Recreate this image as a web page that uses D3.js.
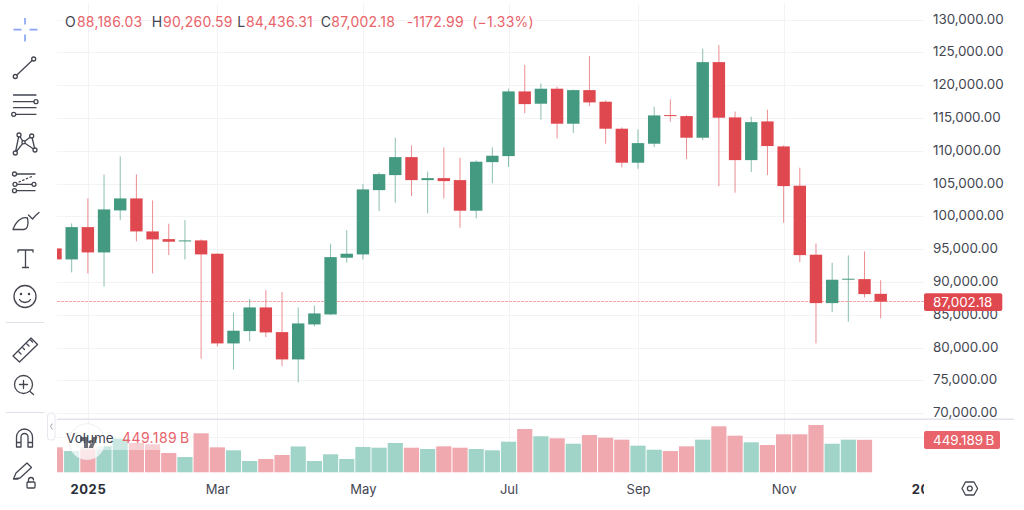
<!DOCTYPE html>
<html>
<head>
<meta charset="utf-8">
<title>BTC weekly</title>
<script src="https://cdn.jsdelivr.net/npm/d3@7/dist/d3.min.js"></script>
<style>
html,body{margin:0;padding:0;background:#fff;overflow:hidden}
svg{display:block;font-family:Inter,"Noto Sans",sans-serif}
</style>
</head>
<body>
<svg id="chart" width="1024" height="510"></svg>
<script>
// Weekly OHLC series
const opens = [95110,93433,98359,94500,100906,102735,97703,96529,96224,96330,94302,80623,82499,86113,82346,78183,83520,85045,93692,94195,104001,106289,109034,105526,105831,105526,100860,108271,109186,119053,117177,119465,114127,119251,117482,113365,108180,111077,115439,115286,111992,123521,115088,108576,114478,110665,104672,94150,86769,90429,90429,88186.03];
const closes = [93433,98359,94500,101058,102735,97703,96483,96133,96330,94195,80623,82560,86113,82300,78183,83673,85198,93784,94302,104108,106441,109034,105526,105831,105374,100860,108332,109247,119053,117116,119465,114127,119251,117375,113365,108180,111169,115393,115286,111992,123521,115042,108576,114371,110720,104611,94089,86769,90337,90490,88141,87002.18];
const highs = [95263,98923,102735,106396,109141,106396,102431,98877,99426,96483,94348,85305,87440,88752,88446,86113,86418,95828,97901,104916,106701,111992,110818,106808,110513,108942,108531,110513,119465,123094,120273,119770,119358,124436,117680,113563,113258,116720,117833,115439,125565,126114,115983,115195,116262,110818,107417,95873,92930,94043,94653,90260.59];
const lows = [93280,91450,91298,89315,99426,96178,91298,94089,93433,78290,80166,76658,80928,81584,77161,74675,83216,84969,92930,93433,100799,102080,103086,100448,102735,98268,99686,105069,107509,115744,114737,111886,112694,116811,111077,107463,107265,110559,114432,108729,111626,104611,103605,106746,106289,99030,93022,80623,85396,83933,87638,84436.31];
const volumes = [345,294,350,360,464,405,387,267,211,539,345,304,156,184,239,357,156,249,184,350,340,405,340,322,359,340,322,304,423,598,498,470,395,515,478,451,368,312,294,359,451,636,506,415,377,525,525,654,395,451,449.189];

const priceTicks = [130000,125000,120000,115000,110000,105000,100000,95000,90000,85000,80000,75000,70000];
const timeIndexes = [2,10,19,28,36,45,54];
const timeLabels = ["2025","Mar","May","Jul","Sep","Nov","2026"];
const boldTimeLabels = ["2025","2026"];

const legendOpen = "88,186.03", legendHigh = "90,260.59", legendLow = "84,436.31", legendClose = "87,002.18";
const legendChange = "-1172.99", legendPercent = "(\u22121.33%)";
const lastPrice = 87002.18, lastVolume = "449.189\u2009B";

const UP = "#449a80", DOWN = "#e0484f", UP_VOL = "#a1d4c8", DOWN_VOL = "#f0a9af";
const INK = "#434651", RED_TEXT = "#e9636a", GRID = "#f3f3f6", RULE = "#e2e3ea";
const PANE_LEFT = 57, PANE_RIGHT = 924;

const svg = d3.select("#chart");
const x = d3.scaleLinear().domain([0, 51]).range([55.5, 880.7]);
const y = d3.scaleLinear().domain([70000, 130000]).range([413.08, 19.63]);
const v = d3.scaleLinear().domain([0, 700]).range([472.3, 421.65]);
const step = x(1) - x(0);

svg.append("defs").append("clipPath").attr("id", "pane")
  .append("rect").attr("x", PANE_LEFT).attr("y", 0).attr("width", PANE_RIGHT - PANE_LEFT).attr("height", 510);

// Grid
const grid = svg.append("g").attr("shape-rendering", "crispEdges");
grid.selectAll("line.h").data(priceTicks).join("line").attr("class", "h")
  .attr("x1", PANE_LEFT).attr("x2", PANE_RIGHT).attr("y1", d => Math.round(y(d))).attr("y2", d => Math.round(y(d)))
  .attr("stroke", GRID);
grid.append("line").attr("x1", PANE_LEFT).attr("x2", PANE_RIGHT).attr("y1", 437).attr("y2", 437).attr("stroke", GRID);
grid.selectAll("line.v").data(timeIndexes.slice(0, 6)).join("line").attr("class", "v")
  .attr("x1", d => Math.round(x(d))).attr("x2", d => Math.round(x(d))).attr("y1", 4).attr("y2", 472)
  .attr("stroke", GRID);

const plot = svg.append("g").attr("clip-path", "url(#pane)");

// Volume columns
plot.append("g").selectAll("rect").data(volumes).join("rect")
  .attr("x", (d, i) => x(i) - (step - 1) / 2)
  .attr("width", step - 1)
  .attr("y", d => v(d))
  .attr("height", d => v(0) - v(d))
  .attr("fill", (d, i) => closes[i] >= opens[i] ? UP_VOL : DOWN_VOL);

// Last price line
plot.append("line")
  .attr("x1", PANE_LEFT).attr("x2", PANE_RIGHT).attr("y1", y(lastPrice)).attr("y2", y(lastPrice))
  .attr("stroke", "#f8a4a8").attr("stroke-dasharray", "3 1")
  .attr("shape-rendering", "crispEdges");

// Candles
const candles = plot.append("g").selectAll("g").data(opens).join("g");
candles.append("line")
  .attr("x1", (d, i) => x(i)).attr("x2", (d, i) => x(i))
  .attr("y1", (d, i) => y(highs[i])).attr("y2", (d, i) => y(lows[i]))
  .attr("stroke", (d, i) => closes[i] >= opens[i] ? UP : DOWN)
  .attr("stroke-opacity", 0.62);
candles.append("rect")
  .attr("x", (d, i) => x(i) - 6.2).attr("width", 12.4)
  .attr("y", (d, i) => y(Math.max(opens[i], closes[i])))
  .attr("height", (d, i) => Math.max(1, Math.abs(y(opens[i]) - y(closes[i]))))
  .attr("fill", (d, i) => closes[i] >= opens[i] ? UP : DOWN);

// Pane separator
svg.append("line").attr("x1", PANE_LEFT).attr("x2", 1014).attr("y1", 419.3).attr("y2", 419.3)
  .attr("stroke", RULE).attr("stroke-width", 1.6);

// Price axis
const priceAxis = d3.axisRight(y).tickValues(priceTicks).tickFormat(d3.format(",.2f")).tickSize(0).tickPadding(0);
const pa = svg.append("g").attr("transform", "translate(933,-0.8)").call(priceAxis);
pa.select(".domain").remove();
pa.selectAll("text").attr("fill", INK).attr("font-size", 13.4).attr("font-family", "Inter");

// Time axis, cut off at the edge of the price scale
const timeAxis = d3.axisBottom(x).tickValues(timeIndexes)
  .tickFormat(d => timeLabels[timeIndexes.indexOf(d)]).tickSize(0).tickPadding(0);
const ta = svg.append("g").attr("clip-path", "url(#pane)").append("g")
  .attr("transform", "translate(0,484.5)").call(timeAxis);
ta.select(".domain").remove();
ta.selectAll("text").attr("fill", d => boldTimeLabels.includes(timeLabels[timeIndexes.indexOf(d)]) ? "#2a2e39" : INK)
  .attr("font-size", 13).attr("font-family", "Inter")
  .attr("font-weight", d => boldTimeLabels.includes(timeLabels[timeIndexes.indexOf(d)]) ? 700 : 400)
  .attr("letter-spacing", d => boldTimeLabels.includes(timeLabels[timeIndexes.indexOf(d)]) ? 0.6 : 0);

// Scale badges
function badge(bx, by, w, h, fill, label) {
  svg.append("rect").attr("x", bx).attr("y", by).attr("width", w).attr("height", h).attr("rx", 2).attr("fill", fill);
  svg.append("text").attr("x", 933).attr("y", by + h / 2 + 4.8).attr("fill", "#fff").attr("font-size", 13.4)
    .attr("font-family", "Inter").text(label);
}
badge(924, 293.3, 78.3, 17.8, "#e0484f", d3.format(",.2f")(lastPrice));
badge(924, 431, 76, 18, "#e8636a", lastVolume);

// Translucent backing of the volume title
svg.append("rect").attr("x", 62).attr("y", 432).attr("width", 130).attr("height", 18)
  .attr("fill", "#fff").attr("fill-opacity", 0.45);

// Watermark under the volume title
const mark = svg.append("g");
mark.append("circle").attr("cx", 87).attr("cy", 441.7).attr("r", 18).attr("fill", "#fff").attr("fill-opacity", 0.72)
  .attr("stroke", "#e6e7ec").attr("stroke-opacity", 0.6);
mark.append("path").attr("fill", "#6d6f78")
  .attr("d", "M80 437h8v11h-4v-7h-4z M90.5 440a1.8 1.8 0 1 0 .01 0z M93 437h4.5l-4.6 11h-4.2z");

// Legend row
const legend = [
  [65, "O", INK], [77, legendOpen, RED_TEXT], [151.7, "H", INK], [163, legendHigh, RED_TEXT],
  [237.3, "L", INK], [246, legendLow, RED_TEXT], [320.7, "C", INK], [331.3, legendClose, RED_TEXT],
  [406.7, legendChange, RED_TEXT], [472.3, legendPercent, RED_TEXT]
];
svg.append("g").selectAll("text").data(legend).join("text")
  .attr("x", d => d[0]).attr("y", 26.5).attr("fill", d => d[2]).attr("font-size", 14).attr("letter-spacing", 0.2)
  .attr("font-family", "Inter").text(d => d[1]);
svg.append("text").attr("x", 66).attr("y", 442.5).attr("fill", INK).attr("font-size", 13.5).attr("font-family", "Inter").text("Volume");
svg.append("text").attr("x", 122).attr("y", 442.5).attr("fill", RED_TEXT).attr("font-size", 14).attr("letter-spacing", 0.4)
  .attr("font-family", "Inter").text(lastVolume);

// Left toolbar
const bar = svg.append("g").attr("fill", "none").attr("stroke", INK).attr("stroke-width", 1.3)
  .attr("stroke-linecap", "round").attr("stroke-linejoin", "round");
const ring = (cx, cy, r = 2) => bar.append("circle").attr("cx", cx).attr("cy", cy).attr("r", r).attr("fill", "#fff");
const draw = d => bar.append("path").attr("d", d);

bar.append("path").attr("d", "M13.5 29.6h8M29.5 29.6h8M25 18v6.5M25 34.5v7").attr("stroke", "#8aa5f6").attr("stroke-linecap", "butt").attr("stroke-width", 1.7);

draw("M15.3 76.5L33.7 59"); ring(15.3, 76.5); ring(33.7, 59);

draw("M13.5 95H36M13.5 101.7H36M13.5 107.7H36M13.7 114.3H36"); ring(36, 101.7); ring(13.7, 114.3);

draw("M15.3 153L19 135L23.5 142.3L31.7 136L35 150L23.5 142.3L15.3 153"); ring(15.3, 153); ring(19, 135); ring(31.7, 136); ring(35, 150); ring(23.5, 142.3, 1.6);

draw("M15 174H35M15 184.3H34M15 190.7H35"); ring(14.5, 174); ring(15, 184.3); ring(34, 184.3); ring(14.5, 190.7);
bar.append("path").attr("d", "M19 182L33 176").attr("stroke-dasharray", "1.5 2.5");

draw("M13 229.5H24C27 229.5 29 225 27.5 218C22 216.5 16 221 13 229.5ZM28.5 215L32.5 219C34 217 36.5 214.5 39 212.5");

draw("M18 252v-2h15v2M25.5 250V267.5M22.5 267.5H28.5");

bar.append("circle").attr("cx", 25).attr("cy", 296.5).attr("r", 11);
draw("M19.5 299.5C22 303.5 28 303.5 30.5 299.5");
bar.append("circle").attr("cx", 21).attr("cy", 294).attr("r", 0.6).attr("fill", INK);
bar.append("circle").attr("cx", 29).attr("cy", 294).attr("r", 0.6).attr("fill", INK);

svg.append("line").attr("x1", 6).attr("x2", 44).attr("y1", 322.5).attr("y2", 322.5).attr("stroke", "#dfe0ea").attr("stroke-width", 1.2);

draw("M13 356L31 338L37.5 344.5L19.5 362ZM18 351l3 3M22 347l2.5 2.5M26 343l3 3M30 339.5l2.5 2.5");

bar.append("circle").attr("cx", 23.5).attr("cy", 384.5).attr("r", 9);
draw("M30 391.5L33.5 394.5M23.5 380.5v8M19.5 384.5h8");

svg.append("line").attr("x1", 6).attr("x2", 44).attr("y1", 412.5).attr("y2", 412.5).attr("stroke", "#dfe0ea").attr("stroke-width", 1.2);

draw("M16.5 447V437a8 8 0 0 1 16 0V447M21 447V437a3.5 3.5 0 0 1 7 0V447M16.5 442.5H21M28 442.5H32.5M16.5 447H21M28 447H32.5");

draw("M13.5 479L16 473L27 463L31.5 467.5L20 478ZM14 479L18 479");
bar.append("rect").attr("x", 27).attr("y", 482).attr("width", 8).attr("height", 6).attr("rx", 1);
draw("M28.5 482V480a2.5 2.5 0 0 1 5 0");

// Collapse handle
svg.append("rect").attr("x", 47.5).attr("y", 413).attr("width", 7.5).attr("height", 27).attr("rx", 3)
  .attr("fill", "#fff").attr("stroke", "#e6e7ef");
svg.append("path").attr("d", "M52.5 423.5L50.5 426.5L52.5 429.5").attr("fill", "none").attr("stroke", "#b2b5be").attr("stroke-width", 1.1);

// Settings button
svg.append("path").attr("d", "M965.5 482h8.5l3.6 6.5L974 495h-8.5L962 488.5Z")
  .attr("fill", "none").attr("stroke", INK).attr("stroke-width", 1.3).attr("stroke-linejoin", "round");
svg.append("circle").attr("cx", 969.8).attr("cy", 488.5).attr("r", 2.4).attr("fill", "none").attr("stroke", INK).attr("stroke-width", 1.3);
</script>
</body>
</html>
